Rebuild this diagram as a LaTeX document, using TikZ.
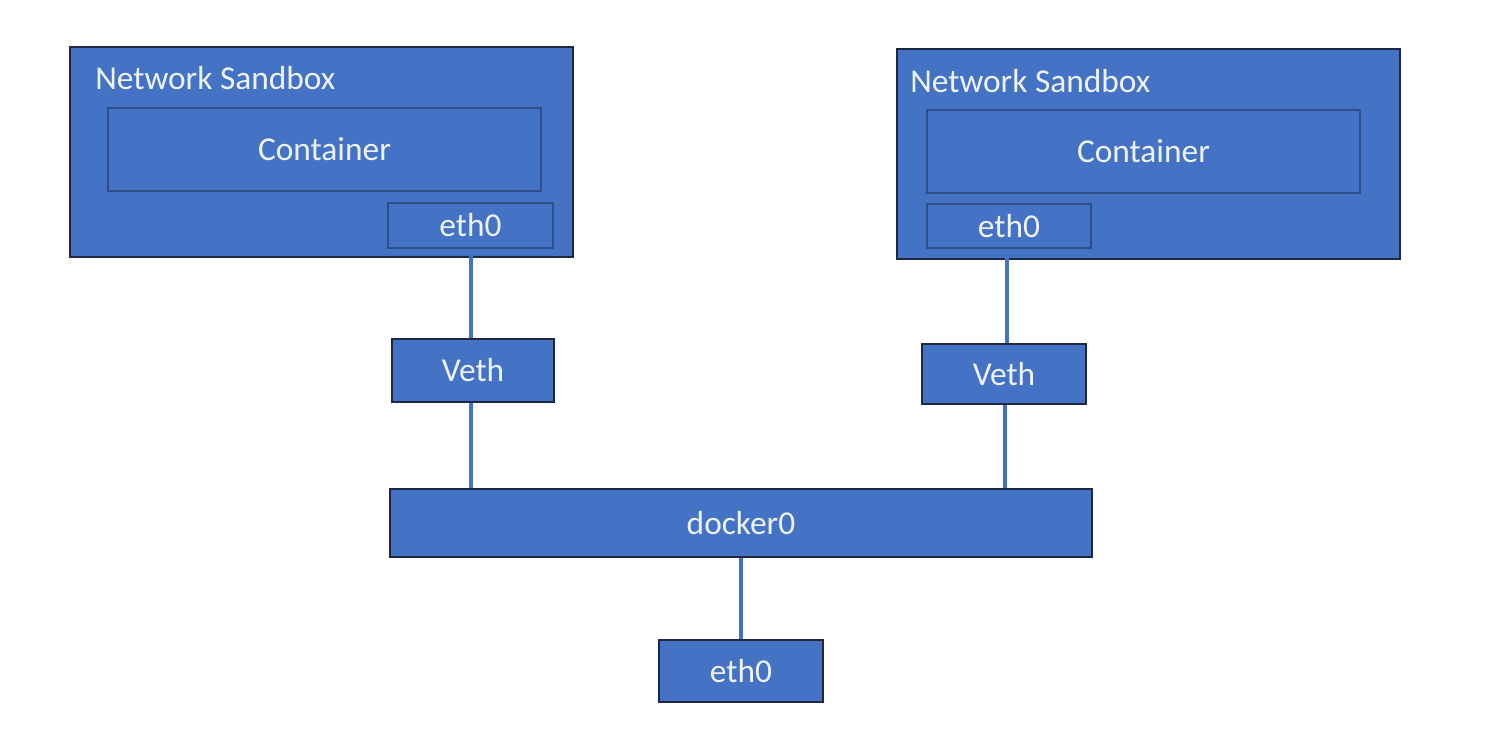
\documentclass[tikz,border=0pt]{standalone}
\usepackage{fontspec}
\setmainfont{Carlito}
\definecolor{boxfill}{HTML}{4472C4}
\definecolor{outerline}{HTML}{1E2940}
\definecolor{innerline}{HTML}{2D4E88}
\definecolor{wire}{HTML}{4472C4}
\definecolor{txt}{HTML}{EEF3FA}
\tikzset{
  bluebox/.style={draw=outerline, line width=1.1pt, fill=boxfill, inner sep=0pt,
    text=txt, font=\fontsize{19}{23}\selectfont, anchor=center},
  innerbox/.style={bluebox, draw=innerline, line width=1.6pt},
  wireline/.style={draw=wire, line width=2pt},
  titletext/.style={text=txt, font=\fontsize{19}{23}\selectfont, anchor=west, inner sep=0pt}
}
\begin{document}
\begin{tikzpicture}[x=0.02cm, y=-0.02cm]
\path[fill=white] (0,0) rectangle (1485,734);
\useasboundingbox (0,0) rectangle (1485,734);

% left sandbox
\node[bluebox, minimum width=10.06cm, minimum height=4.2cm] (lsand) at (321.5,152) {};
\node[titletext] (ltitle) at (95,78) {Network Sandbox};
\node[innerbox, minimum width=8.66cm, minimum height=1.66cm, text depth=0pt] (lcont) at (324.5,149.5) {Container};
\node[innerbox, minimum width=3.3cm, minimum height=0.9cm] (leth) at (470.5,225.5) {eth0};

% right sandbox
\node[bluebox, minimum width=10.06cm, minimum height=4.2cm] (rsand) at (1148.5,154) {};
\node[titletext] (rtitle) at (910,81) {Network Sandbox};
\node[innerbox, minimum width=8.66cm, minimum height=1.66cm, text depth=0pt] (rcont) at (1143.5,151.5) {Container};
\node[innerbox, minimum width=3.28cm, minimum height=0.88cm] (reth) at (1009,226) {eth0};

% veths
\node[bluebox, minimum width=3.24cm, minimum height=1.26cm] (lveth) at (473,370.5) {Veth};
\node[bluebox, minimum width=3.28cm, minimum height=1.2cm] (rveth) at (1004,374) {Veth};

% bridge
\node[bluebox, minimum width=14.04cm, minimum height=1.36cm] (dock) at (741,523) {docker0};

% host eth0
\node[bluebox, minimum width=3.28cm, minimum height=1.24cm] (heth) at (741,671) {eth0};

% connectors
\coordinate (la) at (471,0);
\coordinate (ra) at (1007,0);
\coordinate (rb) at (1005,0);
\draw[wireline] (la |- leth.south) -- (la |- lveth.north);
\draw[wireline] (la |- lveth.south) -- (la |- dock.north);
\draw[wireline] (ra |- reth.south) -- (ra |- rveth.north);
\draw[wireline] (rb |- rveth.south) -- (rb |- dock.north);
\draw[wireline] (dock.south) -- (heth.north);
\end{tikzpicture}
\end{document}
